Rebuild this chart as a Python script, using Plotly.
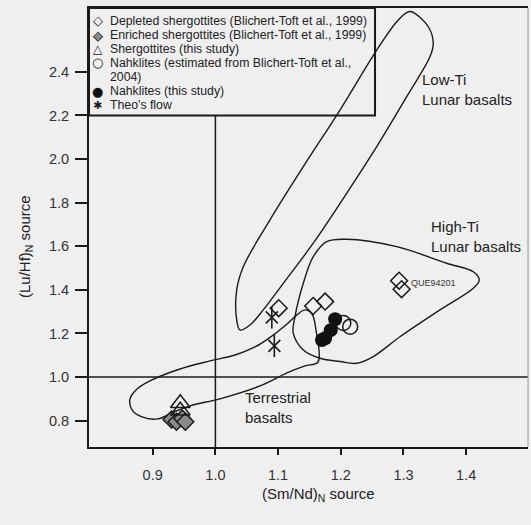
import plotly.graph_objects as go

# ---------------- data ----------------
dep_x = [1.101, 1.156, 1.175, 1.293, 1.297]
dep_y = [1.316, 1.326, 1.346, 1.442, 1.403]
enr_x = [0.930, 0.938, 0.947, 0.952]
enr_y = [0.805, 0.795, 0.810, 0.795]
sher_x = [0.944, 0.944]
sher_y = [0.880, 0.845]
nak_est_x = [1.204, 1.215]
nak_est_y = [1.248, 1.231]
nak_x = [1.191, 1.184, 1.175, 1.170]
nak_y = [1.265, 1.215, 1.178, 1.170]
theo_x = [1.090, 1.094]
theo_y = [1.274, 1.143]

lowti_x = [1.313, 1.3396, 1.3475, 1.3423, 1.3051, 1.2573, 1.2094, 1.1561, 1.1083,
           1.0764, 1.0552, 1.0392, 1.034, 1.034, 1.0445, 1.0871, 1.1402, 1.1987,
           1.2573, 1.2892, 1.3051]
lowti_y = [2.676, 2.607, 2.531, 2.470, 2.286, 2.057, 1.843, 1.614, 1.430,
           1.308, 1.239, 1.216, 1.262, 1.400, 1.506, 1.721, 1.965, 2.225,
           2.500, 2.630, 2.672]
highti_x = [1.1775, 1.2094, 1.2892, 1.3689, 1.4113, 1.4209, 1.4113, 1.3582, 1.2944,
            1.2518, 1.2254, 1.1987, 1.1668, 1.1402, 1.1242, 1.127, 1.1402, 1.1561]
highti_y = [1.621, 1.632, 1.598, 1.522, 1.483, 1.445, 1.407, 1.308, 1.185,
            1.094, 1.063, 1.071, 1.086, 1.124, 1.201, 1.277, 1.430, 1.552]
terr_x = [1.1636, 1.1429, 1.1142, 1.0711, 1.0073, 0.9595, 0.9308, 0.9085, 0.8829,
          0.8670, 0.8638, 0.8734, 0.8925, 0.9435, 0.9914, 1.0313, 1.0632, 1.0839,
          1.1110, 1.1301, 1.1429, 1.1541, 1.1604]
terr_y = [1.069, 1.051, 1.019, 0.959, 0.900, 0.868, 0.836, 0.808, 0.817,
          0.849, 0.900, 0.941, 0.978, 1.037, 1.074, 1.101, 1.138, 1.175,
          1.235, 1.285, 1.308, 1.289, 1.216]

x_ticks = [0.9, 1.0, 1.1, 1.2, 1.3, 1.4]
y_ticks = [0.8, 1.0, 1.2, 1.4, 1.6, 1.8, 2.0, 2.2, 2.4]

legend_labels = [
    "Depleted shergottites (Blichert-Toft et al., 1999)",
    "Enriched shergottites (Blichert-Toft et al., 1999)",
    "Shergottites (this study)",
    "Nahklites (estimated from Blichert-Toft et al.,",
    "2004)",
    "Nahklites (this study)",
    "Theo's flow",
]

# ---------------- layout constants ----------------
W, H = 531, 525
ML, MR, MT, MB = 89, 3, 8, 78
XR = [0.7984, 1.4986]
YR = [0.679, 2.693]
BG = "#efefef"
INK = "#1a1a1a"
FONT = "Liberation Sans, Arial, sans-serif"
PW = W - ML - MR
PH = H - MT - MB


def xp(px):
    return (px - ML) / PW


def yp(py):
    return (H - MB - py) / PH


def closed(xs, ys):
    return xs + xs[:1], ys + ys[:1]


fig = go.Figure()

for xs, ys in [(lowti_x, lowti_y), (highti_x, highti_y), (terr_x, terr_y)]:
    cx, cy = closed(xs, ys)
    fig.add_trace(go.Scatter(x=cx, y=cy, mode="lines",
                             line=dict(color=INK, width=1.4, shape="spline", smoothing=1.0),
                             hoverinfo="skip", showlegend=False))

fig.add_trace(go.Scatter(x=enr_x, y=enr_y, mode="markers",
                         marker=dict(symbol="diamond", size=13, color="#8a8a8a",
                                     line=dict(color=INK, width=1.5)), showlegend=False))
fig.add_trace(go.Scatter(x=sher_x, y=sher_y, mode="markers",
                         marker=dict(symbol="triangle-up-open", size=17, color=INK,
                                     line=dict(width=1.5)), showlegend=False))
fig.add_trace(go.Scatter(x=dep_x, y=dep_y, mode="markers",
                         marker=dict(symbol="diamond-open", size=13, color=INK,
                                     line=dict(width=1.5)), showlegend=False))
fig.add_trace(go.Scatter(x=nak_est_x, y=nak_est_y, mode="markers",
                         marker=dict(symbol="circle-open", size=15, color=INK,
                                     line=dict(width=1.5)), showlegend=False))
fig.add_trace(go.Scatter(x=nak_x, y=nak_y, mode="markers",
                         marker=dict(symbol="circle", size=14, color="#111111"), showlegend=False))
fig.add_trace(go.Scatter(x=theo_x, y=theo_y, mode="markers",
                         marker=dict(symbol="x-thin-open", size=12, color=INK,
                                     line=dict(width=1.6)), showlegend=False))
fig.add_trace(go.Scatter(x=theo_x, y=theo_y, mode="markers",
                         marker=dict(symbol="line-ns-open", size=16, color=INK,
                                     line=dict(width=1.6)), showlegend=False))

shapes = [
    # legend box
    dict(type="rect", xref="x", yref="y", x0=XR[0], x1=1.2546, y0=2.2, y1=YR[1],
         line=dict(color=INK, width=2)),
    # reference lines
    dict(type="line", xref="x", yref="y", x0=1.0, x1=1.0, y0=YR[0], y1=2.2,
         line=dict(color=INK, width=1.5)),
    dict(type="line", xref="x", yref="y", x0=XR[0], x1=XR[1], y0=1.0, y1=1.0,
         line=dict(color=INK, width=1.5)),
    # right frame
    dict(type="line", xref="paper", yref="paper", x0=1, x1=1, y0=0, y1=1,
         line=dict(color="#9a9a9a", width=1)),
]

ann = []
rows = [21, 35, 49, 63, 77, 91, 105]
for lab, r in zip(legend_labels, rows):
    ann.append(dict(x=xp(107.5), y=yp(r), xref="paper", yref="paper", text=lab,
                    showarrow=False, xanchor="left", yanchor="middle",
                    font=dict(family=FONT, size=12.3, color="#222")))
sym = [("\u25c7", 0, INK, 13), ("\u25c6", 1, "#8a8a8a", 13), ("\u25c7", 1, INK, 13),
       ("\u25b3", 2, INK, 12), ("\u25cb", 3, INK, 13), ("\u25cf", 5, "#111", 13),
       ("\u2731", 6, INK, 11)]
for ch, i, col, sz in sym:
    ann.append(dict(x=xp(97.5), y=yp(rows[i]), xref="paper", yref="paper", text=ch,
                    showarrow=False, xanchor="center", yanchor="middle",
                    font=dict(family="DejaVu Sans", size=sz, color=col)))

lab_font = dict(family=FONT, size=15, color="#222")
ann += [
    dict(x=xp(420), y=yp(89.5), xref="paper", yref="paper", text="Low-Ti<br>Lunar basalts",
         showarrow=False, xanchor="left", yanchor="middle", align="left", font=lab_font),
    dict(x=xp(429), y=yp(236.3), xref="paper", yref="paper", text="High-Ti<br>Lunar basalts",
         showarrow=False, xanchor="left", yanchor="middle", align="left", font=lab_font),
    dict(x=xp(242.5), y=yp(407.3), xref="paper", yref="paper", text="Terrestrial<br>basalts",
         showarrow=False, xanchor="left", yanchor="middle", align="left", font=lab_font),
    dict(x=xp(409), y=yp(282.7), xref="paper", yref="paper", text="QUE94201",
         showarrow=False, xanchor="left", yanchor="middle",
         font=dict(family=FONT, size=9, color="#333")),
    dict(x=xp(318), y=yp(495), xref="paper", yref="paper",
         text="(Sm/Nd)<sub>N</sub> source", showarrow=False,
         xanchor="center", yanchor="middle", font=dict(family=FONT, size=15, color="#222")),
    dict(x=xp(25), y=yp(247), xref="paper", yref="paper",
         text="(Lu/Hf)<sub>N</sub> source", showarrow=False, textangle=-90,
         xanchor="center", yanchor="middle", font=dict(family=FONT, size=15, color="#222")),
]

fig.update_layout(
    width=W, height=H,
    margin=dict(l=ML, r=MR, t=MT, b=MB, pad=0),
    paper_bgcolor=BG, plot_bgcolor=BG,
    showlegend=False,
    shapes=shapes, annotations=ann,
    xaxis=dict(range=XR, tickvals=x_ticks, ticktext=[f"{v:.1f}" for v in x_ticks],
               showgrid=False, zeroline=False, showline=True, linecolor=INK, linewidth=2,
               mirror=True, ticks="outside", ticklen=6, tickwidth=1.5, tickcolor=INK,
               tickfont=dict(family=FONT, size=14.5, color="#333"), ticklabelstandoff=8),
    yaxis=dict(range=YR, tickvals=y_ticks, ticktext=[f"{v:.1f}" for v in y_ticks],
               showgrid=False, zeroline=False, showline=True, linecolor=INK, linewidth=2,
               ticks="outside", ticklen=12, tickwidth=1.5, tickcolor=INK,
               tickfont=dict(family=FONT, size=14.5, color="#333"), ticklabelstandoff=3),
)

fig.write_html(
    "out.html",
    config={"displayModeBar": False},
    post_script="document.body.style.margin='0';document.body.style.overflow='hidden';"
                "document.body.style.background='#efefef';",
)
